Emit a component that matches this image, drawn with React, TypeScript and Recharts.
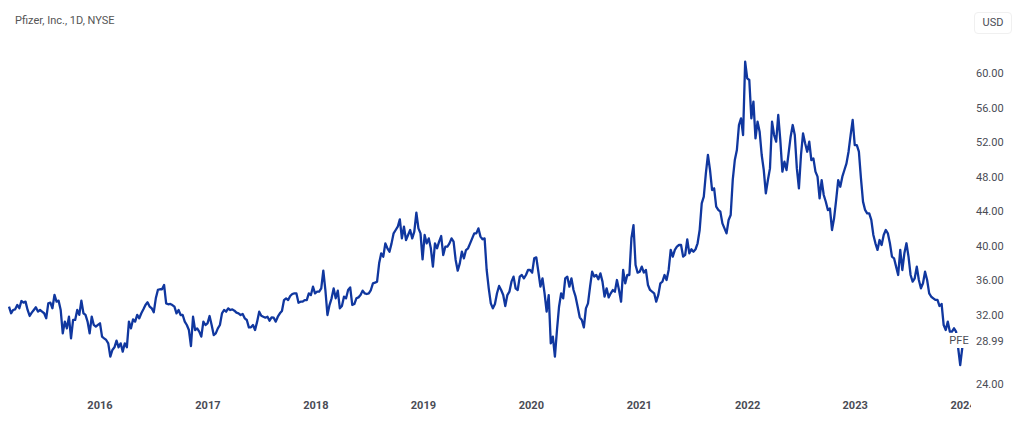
import React from "react";
import { LineChart, Line, XAxis, YAxis } from "recharts";

const FONT = "Roboto, 'Noto Sans', sans-serif";
const LINE_COLOR = "#10379f";

const title = "Pfizer, Inc., 1D, NYSE";
const currency = "USD";
const symbol = "PFE";

const pricesA = [32.96,32.19,32.57,32.65,33.15,32.77,33.61,33.42,33.54,32.57,31.88,32.26,32.57,32.88,32.38,32.57,32.38,32.19,31.61,33.34,33.42,32.77,34.31,33.54,33.65,32.57,29.87,31.22,30.45,31.8,29.29,31.42,31.42,32.57,32.0,33.65,32.19,32.0,31.22,29.87,31.8,30.84,30.64,30.84,31.03,29.49,29.29,29.1,28.7,27.17,27.94,28.25,29.02,28.25,28.71,27.75,28.71,28.25,31.22,30.45,31.49,31.22,32.0,31.61,32.19,32.65,33.15,33.46,32.96,32.77,32.3,33.92,34.89,34.97,34.97,35.47,33.34,33.23,33.27];
const pricesB = [33.14,32.95,32.18,32.57,31.99,31.99,31.22,30.83,30.25,28.4,31.79,30.25,30.44,30.06,29.48,31.22,30.83,31.02,31.87,30.83,29.67,29.86,30.44,30.83,32.18,32.57,32.37,32.76,32.57,32.64,32.49,32.26,32.18,31.99,32.1,31.6,31.41,30.56,30.56,30.83,30.25,31.22,32.37,31.91,31.79,31.68,31.79,31.33,31.72,31.68,31.22,31.79,32.18,32.45,33.72,33.92,33.72,34.19,34.42,34.49,34.49,33.41,33.53,33.53,33.72,33.72,34.49,34.3,35.27,34.49,34.69,34.69,35.07,37.12,34.88,31.99,33.14,33.92,35.07,33.92,34.8,32.76];
const pricesC = [33.03,34.11,33.92,34.88,35.19,33.15,33.26,33.92,34.03,34.3,34.81,34.5,34.42,34.5,34.88,35.65,35.73,35.85,37.97,39.13,38.74,40.28,39.71,39.32,40.28,41.44,41.83,42.21,43.06,40.86,42.21,40.67,41.25,41.83,40.86,41.63,43.83,42.02,41.44,38.43,41.25,40.28,40.86,39.71,37.58,40.28,39.71,40.48,41.13,38.93,39.9,39.9,40.28,40.86,40.48,38.36,37.12,37.97,39.32,38.55,39.51,39.71,40.28,40.86,41.44,41.44,42.02,41.06,40.75,40.86,37.2,35.08,33.34,32.76,33.26,34.5,35.35,34.88,34.3,33.03,34.3,34.69];
const pricesD = [35.85,36.43,35.08,34.88,36.43,36.62,36.23,36.62,37.2,37.2,36.89,38.55,38.66,37.0,35.27,36.23,34.5,32.38,34.3,28.71,29.48,27.17,30.25,32.95,34.5,33.92,36.23,36.43,35.27,36.23,34.88,34.11,32.95,31.72,31.41,30.56,32.76,33.34,35.27,37.0,36.43,36.62,36.12,36.81,35.85,34.11,35.08,34.03,34.5,34.88,34.69,36.04,34.88,33.53,37.2,35.65,36.62];
const pricesE = [36.62,40.87,42.4,37.78,36.89,37.0,37.59,36.89,37.2,35.46,34.89,34.69,34.5,33.54,34.31,35.66,35.85,36.62,36.04,37.2,39.52,38.75,39.52,39.9,40.09,40.09,38.75,38.94,40.75,39.13,39.6,39.32,39.6,40.29,41.83,44.92,45.69,48.39,50.51,48.78,46.46,46.65,44.53,44.15,43.95,42.6,42.02,41.44,42.99,43.57,47.62,49.93,51.09];
const pricesF = [53.98,54.75,52.82,61.31,59.38,59.19,54.75,56.68,52.43,54.36,53.21,50.51,48.77,46.07,47.61,48.96,54.36,52.82,52.05,55.14,52.24,48.58,49.73,48.77,50.7,52.63,53.98,52.82,48.96,46.65,50.51,53.01,51.86,50.89,52.05,49.93,50.12,48.58,48.0,45.49,47.61,45.88,45.1,44.14,44.33,41.83,43.18,45.3,47.61,46.84,48.0,48.77,49.54,50.89,52.82,54.56,51.66,51.66,50.89,47.8];
const pricesG = [45.11,44.15,43.76,43.76,42.99,41.25,40.29,39.52,40.67,40.09,41.25,41.83,41.45,40.29,38.74,38.55,37.59,36.62,39.52,37.2,39.13,40.29,38.74,36.62,35.85,36.24,37.59,36.04,35.08,35.66,37.0,36.04,34.5,34.1,33.92,33.73];
const pricesH = [33.73,33.03,33.27,30.83,30.26,31.22,30.06,30.06,30.45,30.06,28.2,26.2,28.2];

const prices = [...pricesA, ...pricesB, ...pricesC, ...pricesD, ...pricesE, ...pricesF, ...pricesG, ...pricesH];
const data = prices.map((price, week) => ({ week, price }));

const yearLabels = ["2016", "2017", "2018", "2019", "2020", "2021", "2022", "2023", "2024"];
const yearWeeks = [44, 96.2, 148.4, 200.4, 252.6, 304.8, 357.2, 409.2, 461.4];
const priceTicks = [24, 28.99, 32, 36, 40, 44, 48, 52, 56, 60];

const PLOT_RIGHT = 972;

const YearTick = (props: any) => {
  const { x, y, index } = props;
  const left = x - 20;
  return (
    <svg x={left} y={y - 8} width={Math.min(40, PLOT_RIGHT - left - 1)} height={20} style={{ overflow: "hidden" }}>
      <text x={20} y={14} textAnchor="middle" fontFamily={FONT} fontSize={11} fontWeight={700} fill="#4a4c55">
        {yearLabels[index]}
      </text>
    </svg>
  );
};

const PriceTick = (props: any) => {
  const { x, y, payload } = props;
  return (
    <text x={x - 4} y={y + 4} textAnchor="start" fontFamily={FONT} fontSize={11} fill="#4a4c55">
      {payload.value.toFixed(2)}
    </text>
  );
};

export default function App() {
  return (
    <div style={{ position: "absolute", left: 0, top: 0, width: 1024, height: 427, background: "#fff", fontFamily: FONT, overflow: "hidden" }}>
      <LineChart width={1024} height={427} data={data} margin={{ top: 0, right: 0, bottom: 0, left: 0 }}>
        <XAxis
          dataKey="week"
          type="number"
          domain={[-4.35, 465.7]}
          ticks={yearWeeks}
          interval={0}
          axisLine={false}
          tickLine={false}
          height={32}
          tick={<YearTick />}
          allowDataOverflow
        />
        <YAxis
          orientation="right"
          type="number"
          width={52}
          domain={[22.73, 68.45]}
          ticks={priceTicks}
          interval={0}
          axisLine={false}
          tickLine={false}
          tick={<PriceTick />}
          allowDataOverflow
        />
        <Line type="linear" dataKey="price" stroke={LINE_COLOR} strokeWidth={2.3} strokeLinejoin="round" dot={false} activeDot={false} isAnimationActive={false} />
      </LineChart>
      <div style={{ position: "absolute", left: 15, top: 14, fontSize: 11, lineHeight: "14px", color: "#555", whiteSpace: "nowrap" }}>{title}</div>
      <div style={{ position: "absolute", left: 974, top: 12, width: 38, height: 22, boxSizing: "border-box", border: "1px solid #f0f0f0", borderRadius: 4, fontSize: 11, lineHeight: "20px", textAlign: "center", color: "#4a4c55" }}>{currency}</div>
      <div style={{ position: "absolute", left: 948, top: 333, width: 22, height: 15, background: "#fff", fontSize: 11, lineHeight: "15px", textAlign: "center", color: "#4a4c55" }}>{symbol}</div>
    </div>
  );
}
